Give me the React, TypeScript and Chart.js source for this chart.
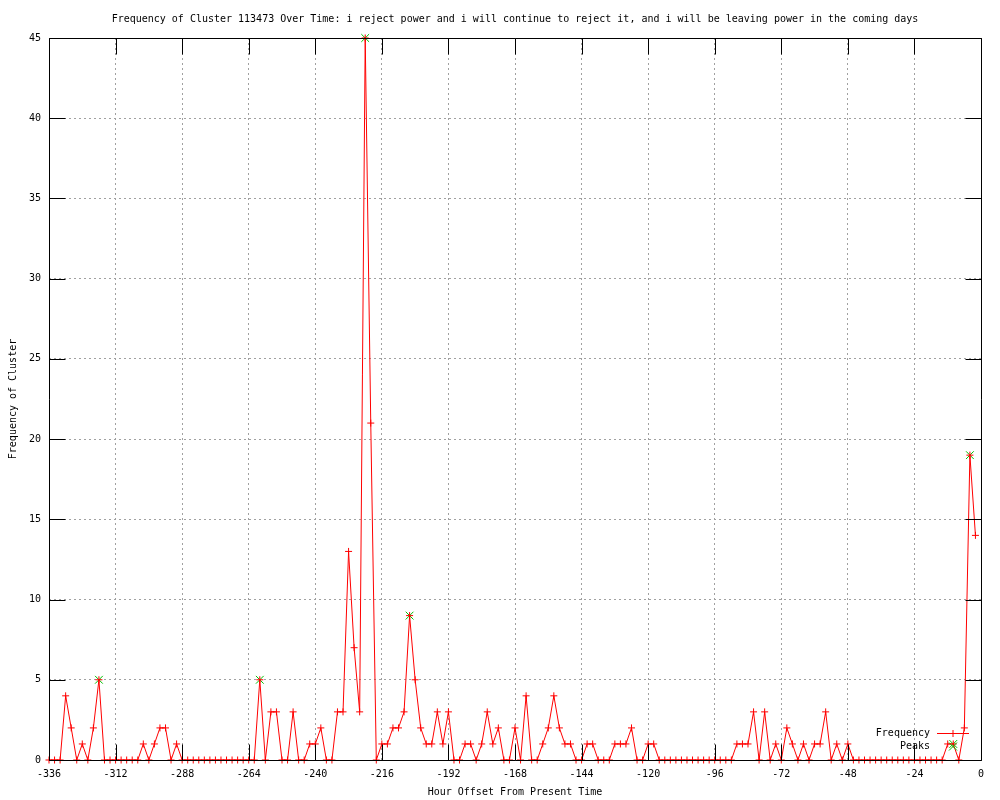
import React, { useEffect, useRef } from "react";
import { Chart, registerables } from "chart.js";

Chart.register(...registerables);

const hours = [
  -336, -334, -332, -330, -328, -326, -324, -322, -320, -318,
  -316, -314, -312, -310, -308, -306, -304, -302, -300, -298,
  -296, -294, -292, -290, -288, -286, -284, -282, -280, -278,
  -276, -274, -272, -270, -268, -266, -264, -262, -260, -258,
  -256, -254, -252, -250, -248, -246, -244, -242, -240, -238,
  -236, -234, -232, -230, -228, -226, -224, -222, -220, -218,
  -216, -214, -212, -210, -208, -206, -204, -202, -200, -198,
  -196, -194, -192, -190, -188, -186, -184, -182, -180, -178,
  -176, -174, -172, -170, -168, -166, -164, -162, -160, -158,
  -156, -154, -152, -150, -148, -146, -144, -142, -140, -138,
  -136, -134, -132, -130, -128, -126, -124, -122, -120, -118,
  -116, -114, -112, -110, -108, -106, -104, -102, -100, -98,
  -96, -94, -92, -90, -88, -86, -84, -82, -80, -78,
  -76, -74, -72, -70, -68, -66, -64, -62, -60, -58,
  -56, -54, -52, -50, -48, -46, -44, -42, -40, -38,
  -36, -34, -32, -30, -28, -26, -24, -22, -20, -18,
  -16, -14, -12, -10, -8, -6, -4, -2,
];

const frequency = [
  0, 0, 0, 4, 2, 0, 1, 0, 2, 5,
  0, 0, 0, 0, 0, 0, 0, 1, 0, 1,
  2, 2, 0, 1, 0, 0, 0, 0, 0, 0,
  0, 0, 0, 0, 0, 0, 0, 0, 5, 0,
  3, 3, 0, 0, 3, 0, 0, 1, 1, 2,
  0, 0, 3, 3, 13, 7, 3, 45, 21, 0,
  1, 1, 2, 2, 3, 9, 5, 2, 1, 1,
  3, 1, 3, 0, 0, 1, 1, 0, 1, 3,
  1, 2, 0, 0, 2, 0, 4, 0, 0, 1,
  2, 4, 2, 1, 1, 0, 0, 1, 1, 0,
  0, 0, 1, 1, 1, 2, 0, 0, 1, 1,
  0, 0, 0, 0, 0, 0, 0, 0, 0, 0,
  0, 0, 0, 0, 1, 1, 1, 3, 0, 3,
  0, 1, 0, 2, 1, 0, 1, 0, 1, 1,
  3, 0, 1, 0, 1, 0, 0, 0, 0, 0,
  0, 0, 0, 0, 0, 0, 0, 0, 0, 0,
  0, 0, 1, 1, 0, 2, 19, 14,
];

const peakHours = [-318, -260, -222, -206, -10, -4];
const peakValues = [5, 5, 45, 9, 1, 19];

const xTicks = [-336, -312, -288, -264, -240, -216, -192, -168, -144, -120, -96, -72, -48, -24, 0];
const yTicks = [0, 5, 10, 15, 20, 25, 30, 35, 40, 45];

const titleText =
  "Frequency of Cluster 113473 Over Time: i reject power and i will continue to reject it, and i will be leaving power in the coming days";
const seriesNames = ["Frequency", "Peaks"];

const FONT = "'DejaVu Sans Mono', 'Liberation Mono', monospace";
const RED = "#ff0000";
const GREEN = "#00c000";

const framePlugin = {
  id: "gnuplotFrame",
  afterDatasetsDraw(chart: any) {
    const { ctx, chartArea } = chart;
    const xs = chart.scales.x;
    const ys = chart.scales.y;
    const L = Math.round(chartArea.left) + 0.5;
    const R = Math.round(chartArea.right) + 0.5;
    const T = Math.round(chartArea.top) + 0.5;
    const B = Math.round(chartArea.bottom) + 0.5;
    const tl = 16;
    ctx.save();
    ctx.strokeStyle = "#000";
    ctx.lineWidth = 1;
    ctx.beginPath();
    ctx.rect(L, T, R - L, B - T);
    for (const v of xTicks) {
      const px = Math.round(xs.getPixelForValue(v)) + 0.5;
      ctx.moveTo(px, B);
      ctx.lineTo(px, B - tl);
      ctx.moveTo(px, T);
      ctx.lineTo(px, T + tl);
    }
    for (const v of yTicks) {
      const py = Math.round(ys.getPixelForValue(v)) + 0.5;
      ctx.moveTo(L, py);
      ctx.lineTo(L + tl, py);
      ctx.moveTo(R, py);
      ctx.lineTo(R - tl, py);
    }
    ctx.stroke();
    ctx.restore();
  },
  afterDraw(chart: any) {
    const { ctx } = chart;
    ctx.save();
    ctx.font = `10px ${FONT}`;
    ctx.fillStyle = "#000";
    ctx.textAlign = "right";
    ctx.textBaseline = "middle";
    const tx = 930;
    const y1 = 733;
    const y2 = 746.5;
    ctx.fillText(seriesNames[0], tx, y1);
    ctx.fillText(seriesNames[1], tx, y2);
    ctx.strokeStyle = RED;
    ctx.lineWidth = 1;
    ctx.beginPath();
    ctx.moveTo(937, y1 + 0.5);
    ctx.lineTo(969, y1 + 0.5);
    ctx.moveTo(953, y1 - 3);
    ctx.lineTo(953, y1 + 4);
    ctx.stroke();
    ctx.strokeStyle = GREEN;
    ctx.beginPath();
    ctx.moveTo(949, y2 - 4);
    ctx.lineTo(957, y2 + 4);
    ctx.moveTo(957, y2 - 4);
    ctx.lineTo(949, y2 + 4);
    ctx.stroke();
    ctx.restore();
  },
};

export default function App() {
  const ref = useRef<HTMLCanvasElement>(null);
  useEffect(() => {
    if (!ref.current) return;
    Chart.defaults.font.family = FONT;
    Chart.defaults.font.size = 10;
    Chart.defaults.color = "#000";
    const chart = new Chart(ref.current, {
      type: "line",
      data: {
        datasets: [
          {
            label: seriesNames[0],
            data: hours.map((h, i) => ({ x: h, y: frequency[i] })),
            borderColor: RED,
            backgroundColor: RED,
            borderWidth: 1,
            pointStyle: "cross",
            pointRadius: 3.5,
            pointBorderColor: RED,
            pointBorderWidth: 1,
            tension: 0,
            fill: false,
            clip: false as any,
          },
          {
            label: seriesNames[1],
            data: peakHours.map((h, i) => ({ x: h, y: peakValues[i] })),
            showLine: false,
            borderColor: GREEN,
            backgroundColor: GREEN,
            pointStyle: "crossRot",
            pointRadius: 5.5,
            pointBorderColor: GREEN,
            pointBorderWidth: 1,
            clip: false as any,
          },
        ],
      },
      options: {
        responsive: false,
        animation: false,
        devicePixelRatio: 1,
        events: [],
        layout: { padding: { left: 0, right: 19, top: 0, bottom: 0 } },
        plugins: {
          legend: { display: false },
          tooltip: { enabled: false },
          title: {
            display: true,
            text: titleText,
            fullSize: false,
            color: "#000",
            font: { family: FONT, size: 10, weight: "normal" },
            padding: { top: 13, bottom: 13 },
          },
        },
        scales: {
          x: {
            type: "linear",
            min: -336,
            max: 0,
            afterBuildTicks: (scale: any) => {
              scale.ticks = xTicks.map((v) => ({ value: v }));
            },
            afterFit: (scale: any) => {
              scale.height = 40;
            },
            ticks: {
              color: "#000",
              font: { family: FONT, size: 10 },
              padding: 8,
              maxRotation: 0,
              autoSkip: false,
              callback: (v: any) => String(v),
            },
            grid: { color: "#a0a0a0", lineWidth: 1, drawTicks: false },
            border: { display: false, dash: [2, 3] },
            title: {
              display: true,
              text: "Hour Offset From Present Time",
              color: "#000",
              font: { family: FONT, size: 10 },
              padding: { top: 0, bottom: 2 },
            },
          },
          y: {
            type: "linear",
            min: 0,
            max: 45,
            afterBuildTicks: (scale: any) => {
              scale.ticks = yTicks.map((v) => ({ value: v }));
            },
            afterFit: (scale: any) => {
              scale.width = 49;
            },
            ticks: {
              color: "#000",
              font: { family: FONT, size: 10 },
              padding: 8,
              autoSkip: false,
              callback: (v: any) => String(v),
            },
            grid: { color: "#a0a0a0", lineWidth: 1, drawTicks: false },
            border: { display: false, dash: [2, 3] },
            title: {
              display: true,
              text: "Frequency of Cluster",
              color: "#000",
              font: { family: FONT, size: 10 },
              padding: { top: 7, bottom: 0 },
            },
          },
        },
      },
      plugins: [framePlugin],
    });
    return () => chart.destroy();
  }, []);
  return (
    <div style={{ position: "absolute", left: 0, top: 0, width: 1000, height: 800, background: "#fff" }}>
      <canvas ref={ref} width={1000} height={800} />
    </div>
  );
}
